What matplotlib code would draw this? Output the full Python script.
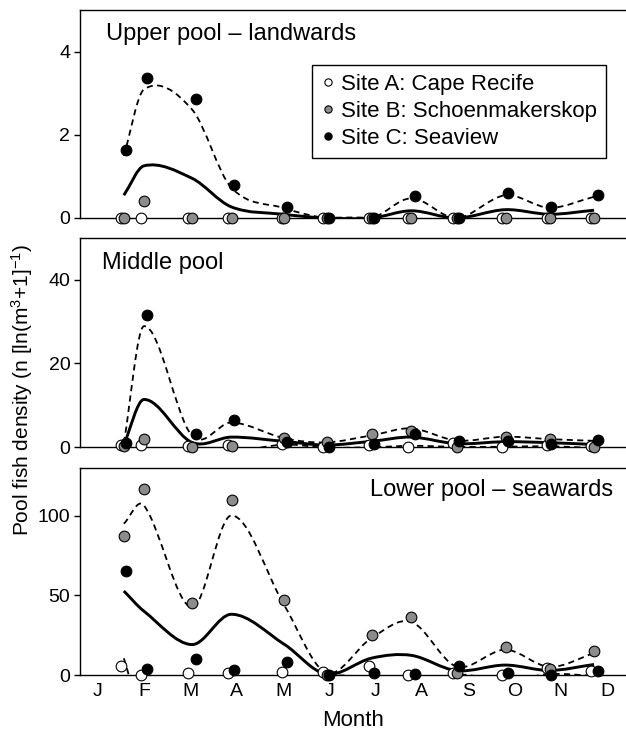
import numpy as np
import matplotlib
matplotlib.use('Agg')
import matplotlib.pyplot as plt
from matplotlib.path import Path
from matplotlib.patches import PathPatch

plt.rcParams['font.family'] = ['Liberation Sans', 'DejaVu Sans']
plt.rcParams['mathtext.fontset'] = 'custom'
plt.rcParams['mathtext.rm'] = 'Liberation Sans'
plt.rcParams['mathtext.it'] = 'Liberation Sans:italic'

# month axis (0 = J)
months = ['J', 'F', 'M', 'A', 'M', 'J', 'J', 'A', 'S', 'O', 'N', 'D']

# sampling dates per site (in months)
date_a = [0.50, 0.94, 1.95, 2.81, 3.98, 4.86, 5.85, 6.70, 7.68, 8.74, 9.71, 10.65]
date_b = [0.57, 0.99, 2.03, 2.89, 4.03, 4.94, 5.93, 6.76, 7.76, 8.81, 9.77, 10.71]
date_c = [0.61, 1.05, 2.11, 2.95, 4.08, 4.99, 5.97, 6.86, 7.80, 8.85, 9.80, 10.80]

# upper pool - landwards
upper_a = [0, 0, 0, 0, 0, 0, 0, 0, 0, 0, 0, 0]
upper_b = [0, 0.40, 0, 0, 0, 0, 0, 0, 0, 0, 0, 0]
upper_c = [1.64, 3.36, 2.87, 0.80, 0.26, 0, 0, 0.52, 0, 0.60, 0.27, 0.56]

# middle pool
mid_a = [0.4, 0.5, 0.2, 0.5, 0.6, 0.1, 0.4, 0.0, 0.9, 0.0, 0.4, 0.2]
mid_b = [0.2, 2.0, 0.1, 0.2, 2.1, 1.2, 3.0, 3.9, 0.0, 2.4, 2.0, 0.0]
mid_c = [1.0, 31.6, 3.0, 6.4, 1.3, 0.1, 0.7, 3.2, 1.5, 1.4, 0.7, 1.6]

# lower pool - seawards
low_a = [5.6, 0.0, 1.5, 1.5, 2.1, 1.7, 5.6, 0.0, 1.5, 0.3, 4.5, 2.5]
low_b = [87.2, 116.7, 45.5, 109.8, 47.1, 0.0, 25.1, 36.6, 1.0, 17.4, 3.8, 14.8]
low_c = [65.5, 3.6, 10.3, 3.1, 8.4, 0.0, 1.2, 0.4, 5.8, 1.0, 0.3, 2.5]

titles = ['Upper pool \u2013 landwards', 'Middle pool', 'Lower pool \u2013 seawards']
ylims = [5, 50, 130]
yticks = [[0, 2, 4], [0, 20, 40], [0, 50, 100]]
site_labels = ['Site A: Cape Recife', 'Site B: Schoenmakerskop', 'Site C: Seaview']
site_colors = ['white', '#8c8c8c', 'black']


def smooth_path(x, y):
    # cubic hermite through the nodes, drawn as bezier segments
    x = np.asarray(x, float)
    y = np.asarray(y, float)
    n = len(x)
    m = np.empty(n)
    m[1:-1] = (y[2:] - y[:-2]) / (x[2:] - x[:-2])
    m[0] = (y[1] - y[0]) / (x[1] - x[0])
    m[-1] = (y[-1] - y[-2]) / (x[-1] - x[-2])
    verts = [(x[0], y[0])]
    codes = [Path.MOVETO]
    for i in range(n - 1):
        h = (x[i + 1] - x[i]) / 3.0
        verts += [(x[i] + h, y[i] + m[i] * h),
                  (x[i + 1] - h, y[i + 1] - m[i + 1] * h),
                  (x[i + 1], y[i + 1])]
        codes += [Path.CURVE4] * 3
    return Path(verts, codes)


fig = plt.figure(figsize=(6.26, 7.38), dpi=100)

W, H = 626.0, 738.0
left, right = 80, 626
boxes = [(10, 218), (238, 447), (468, 675)]
panels = [(upper_a, upper_b, upper_c), (mid_a, mid_b, mid_c), (low_a, low_b, low_c)]
dates = [date_a, date_b, date_c]
x_mean = np.mean(np.array(dates), axis=0)

axes = []
for k, (top, bot) in enumerate(boxes):
    ax = fig.add_axes([left / W, 1 - bot / H, (right - left) / W, (bot - top) / H])
    axes.append(ax)
    vals = np.array(panels[k], float)
    mean = vals.mean(axis=0)
    sd = vals.std(axis=0, ddof=1)

    ax.add_patch(PathPatch(smooth_path(x_mean, mean), fill=False, lw=2.1,
                           ec='black', zorder=2, capstyle='butt'))
    for curve in (mean + sd, mean - sd):
        ax.add_patch(PathPatch(smooth_path(x_mean, curve), fill=False, lw=1.3,
                               ec='black', ls=(0, (3.4, 2.4)), zorder=2))

    for s in range(3):
        ax.plot(dates[s], panels[k][s], ls='none', marker='o', ms=7.7,
                mfc=site_colors[s], mec='black', mew=0.8, clip_on=False,
                zorder=3 + s, label=site_labels[s])

    ax.set_xlim(-0.387, 11.41)
    ax.set_ylim(0, ylims[k])
    ax.set_yticks(yticks[k])
    ax.set_xticks(range(12))
    ax.spines['right'].set_visible(False)
    for sp in ['left', 'top', 'bottom']:
        ax.spines[sp].set_linewidth(1.0)
    ax.tick_params(axis='y', direction='out', length=4, width=1.0, labelsize=14, pad=3)
    ax.tick_params(axis='x', length=0, labelsize=14, pad=6)
    if k < 2:
        ax.set_xticklabels([])
    else:
        ax.set_xticklabels(months)

axes[0].text(0.048, 0.885, titles[0], transform=axes[0].transAxes,
             fontsize=17, ha='left', va='center')
axes[1].text(0.040, 0.880, titles[1], transform=axes[1].transAxes,
             fontsize=17, ha='left', va='center')
axes[2].text(0.976, 0.894, titles[2], transform=axes[2].transAxes,
             fontsize=17, ha='right', va='center')

# legend with small markers
handles, labels = axes[0].get_legend_handles_labels()
leg = axes[0].legend(handles, labels, loc='upper right', bbox_to_anchor=(0.963, 0.736),
                     borderaxespad=0, fontsize=16, markerscale=0.68, handlelength=0.6,
                     handletextpad=0.3, labelspacing=0.28, borderpad=0.4,
                     fancybox=False, framealpha=1, edgecolor='black')
leg.get_frame().set_linewidth(1.0)

fig.text(22 / W, 1 - 390 / H, 'Pool fish density (n [ln(m$^{3}$+1]$^{-1}$)',
         rotation=90, ha='center', va='center', fontsize=15)
fig.text((left + right) / 2 / W, 1 - 721 / H, 'Month', ha='center', va='center', fontsize=16)

fig.savefig('out.png', dpi=100)
